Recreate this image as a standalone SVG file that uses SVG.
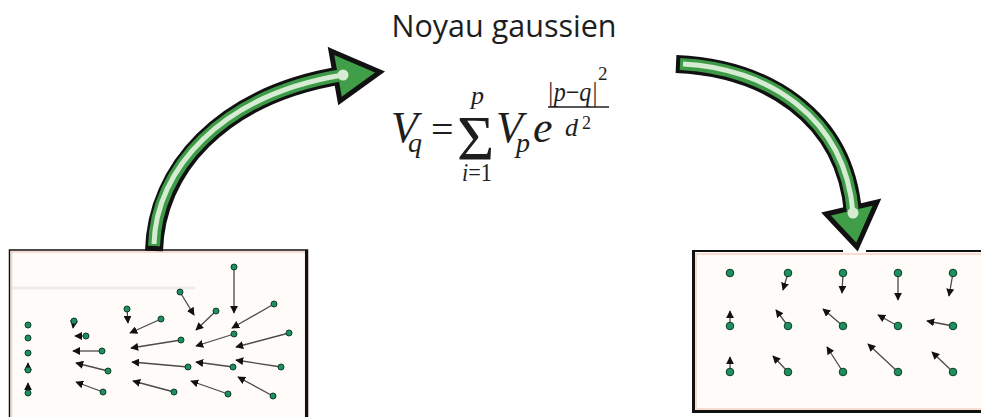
<svg xmlns="http://www.w3.org/2000/svg" width="981" height="417" viewBox="0 0 981 417">
<style>
.dot{fill:#1f8f5e;stroke:#0c3d28;stroke-width:1}
.vec{stroke:#4a4a4a;stroke-width:1.3;fill:none;marker-end:url(#ah)}
.sh-b{fill:none;stroke:#111;stroke-width:18}
.sh-g{fill:none;stroke:#3d9b47;stroke-width:12}
.sh-l{fill:none;stroke:#d6ecd2;stroke-width:5}
.head{fill:#3f9e47;stroke:#111;stroke-width:5;stroke-linejoin:miter}
.end{fill:#d6ecd2}
.m{font-family:"Liberation Serif",serif;font-style:italic;fill:#1e1e1e}
.u{font-family:"Liberation Serif",serif;fill:#1e1e1e}
</style>
<defs>
<marker id="ah" viewBox="0 0 10 10" refX="9" refY="5" markerWidth="8" markerHeight="8" markerUnits="userSpaceOnUse" orient="auto">
<path d="M0,0 L10,5 L0,10 Z" fill="#111"/>
</marker>
</defs>
<rect width="981" height="417" fill="#fff"/>

<text x="504" y="37" text-anchor="middle" font-family="'Open Sans',sans-serif" font-size="30.5" fill="#1e1e1e">Noyau gaussien</text>

<g id="formula">
<text class="m" x="391" y="142" font-size="44">V</text>
<text class="m" x="408" y="152" font-size="28">q</text>
<text class="u" x="431" y="143" font-size="40">=</text>
<text class="u" x="457" y="160" font-size="64">Σ</text>
<text class="m" x="471" y="104" font-size="26">p</text>
<text class="m" x="462" y="181" font-size="25" textLength="30" lengthAdjust="spacingAndGlyphs">i<tspan class="u" font-style="normal">=1</tspan></text>
<text class="m" x="496" y="142" font-size="44">V</text>
<text class="m" x="516" y="152" font-size="28">p</text>
<text class="m" x="533" y="142" font-size="44">e</text>
<text class="m" x="547" y="101" font-size="27" textLength="51" lengthAdjust="spacingAndGlyphs">|p<tspan class="u" font-style="normal">−</tspan>q|</text>
<text class="u" x="598" y="80" font-size="19">2</text>
<line x1="548" y1="107" x2="609" y2="107" stroke="#1e1e1e" stroke-width="1.3"/>
<text class="m" x="565" y="136" font-size="26">d</text>
<text class="u" x="582" y="129" font-size="18">2</text>
</g>

<g id="field-before">
<rect x="9.5" y="250" width="298" height="170" fill="#fffbf8" stroke="#111" stroke-width="1.5"/>
<rect x="11.5" y="252" width="294" height="170" fill="none" stroke="#f3d2c4" stroke-width="1.5"/>
<line x1="306.5" y1="250" x2="306.5" y2="417" stroke="#111" stroke-width="3"/>
<line x1="12" y1="288" x2="195" y2="288" stroke="#eceeee" stroke-width="3"/>
<line class="vec" x1="28" y1="370" x2="28" y2="363"/>
<line class="vec" x1="28" y1="393" x2="28" y2="383"/>
<line class="vec" x1="74" y1="321" x2="73" y2="328"/>
<line class="vec" x1="86" y1="336" x2="75" y2="336"/>
<line class="vec" x1="102" y1="351" x2="73" y2="351"/>
<line class="vec" x1="108" y1="371" x2="76" y2="363"/>
<line class="vec" x1="103" y1="392" x2="76" y2="382"/>
<line class="vec" x1="127" y1="309" x2="128" y2="323"/>
<line class="vec" x1="161" y1="319" x2="130" y2="333"/>
<line class="vec" x1="181" y1="340" x2="131" y2="348"/>
<line class="vec" x1="188" y1="367" x2="132" y2="362"/>
<line class="vec" x1="174" y1="392" x2="133" y2="381"/>
<line class="vec" x1="180" y1="292" x2="194" y2="315"/>
<line class="vec" x1="216" y1="311" x2="196" y2="330"/>
<line class="vec" x1="234" y1="334" x2="196" y2="346"/>
<line class="vec" x1="233" y1="367" x2="196" y2="362"/>
<line class="vec" x1="228" y1="394" x2="191" y2="381"/>
<line class="vec" x1="234" y1="267" x2="234" y2="313"/>
<line class="vec" x1="274" y1="304" x2="232" y2="328"/>
<line class="vec" x1="289" y1="333" x2="236" y2="347"/>
<line class="vec" x1="281" y1="367" x2="236" y2="360"/>
<line class="vec" x1="273" y1="396" x2="238" y2="377"/>
<g>
<circle class="dot" cx="28" cy="325" r="3"/>
<circle class="dot" cx="28" cy="338" r="3"/>
<circle class="dot" cx="28" cy="353" r="3"/>
<circle class="dot" cx="28" cy="370" r="3"/>
<circle class="dot" cx="28" cy="393" r="3"/>
<circle class="dot" cx="74" cy="321" r="3"/>
<circle class="dot" cx="86" cy="336" r="3"/>
<circle class="dot" cx="102" cy="351" r="3"/>
<circle class="dot" cx="108" cy="371" r="3"/>
<circle class="dot" cx="103" cy="392" r="3"/>
<circle class="dot" cx="127" cy="309" r="3"/>
<circle class="dot" cx="161" cy="319" r="3"/>
<circle class="dot" cx="181" cy="340" r="3"/>
<circle class="dot" cx="188" cy="367" r="3"/>
<circle class="dot" cx="174" cy="392" r="3"/>
<circle class="dot" cx="180" cy="292" r="3"/>
<circle class="dot" cx="216" cy="311" r="3"/>
<circle class="dot" cx="234" cy="334" r="3"/>
<circle class="dot" cx="233" cy="367" r="3"/>
<circle class="dot" cx="228" cy="394" r="3"/>
<circle class="dot" cx="234" cy="267" r="3"/>
<circle class="dot" cx="274" cy="304" r="3"/>
<circle class="dot" cx="289" cy="333" r="3"/>
<circle class="dot" cx="281" cy="367" r="3"/>
<circle class="dot" cx="273" cy="396" r="3"/>
</g>
</g>

<g id="field-after">
<rect x="693" y="251" width="300" height="161" fill="#fffbf8" stroke="none"/>
<rect x="696" y="254" width="300" height="155" fill="none" stroke="#f3d2c4" stroke-width="1.5"/>
<path d="M693,251 H843 M866,251 H981" stroke="#111" stroke-width="2" fill="none"/>
<line x1="693.5" y1="250" x2="693.5" y2="413" stroke="#111" stroke-width="3"/>
<line x1="692" y1="411.5" x2="981" y2="411.5" stroke="#111" stroke-width="3"/>
<line class="vec" x1="788" y1="273" x2="783" y2="290"/>
<line class="vec" x1="843" y1="273" x2="842" y2="293"/>
<line class="vec" x1="898" y1="273" x2="898" y2="300"/>
<line class="vec" x1="953" y1="273" x2="949" y2="296"/>
<line class="vec" x1="730" y1="326" x2="730" y2="311"/>
<line class="vec" x1="788" y1="326" x2="776" y2="310"/>
<line class="vec" x1="843" y1="326" x2="823" y2="309"/>
<line class="vec" x1="898" y1="326" x2="878" y2="315"/>
<line class="vec" x1="953" y1="326" x2="927" y2="321"/>
<line class="vec" x1="730" y1="372" x2="730" y2="357"/>
<line class="vec" x1="788" y1="372" x2="773" y2="356"/>
<line class="vec" x1="843" y1="372" x2="827" y2="347"/>
<line class="vec" x1="898" y1="372" x2="868" y2="344"/>
<line class="vec" x1="953" y1="372" x2="932" y2="352"/>
<g>
<circle class="dot" cx="730" cy="273" r="3.8"/>
<circle class="dot" cx="788" cy="273" r="3.8"/>
<circle class="dot" cx="843" cy="273" r="3.8"/>
<circle class="dot" cx="898" cy="273" r="3.8"/>
<circle class="dot" cx="953" cy="273" r="3.8"/>
<circle class="dot" cx="730" cy="326" r="3.8"/>
<circle class="dot" cx="788" cy="326" r="3.8"/>
<circle class="dot" cx="843" cy="326" r="3.8"/>
<circle class="dot" cx="898" cy="326" r="3.8"/>
<circle class="dot" cx="953" cy="326" r="3.8"/>
<circle class="dot" cx="730" cy="372" r="3.8"/>
<circle class="dot" cx="788" cy="372" r="3.8"/>
<circle class="dot" cx="843" cy="372" r="3.8"/>
<circle class="dot" cx="898" cy="372" r="3.8"/>
<circle class="dot" cx="953" cy="372" r="3.8"/>
</g>
</g>

<g id="connectors">
<g id="arrow-left">
<path class="sh-b" d="M154,251 C156,170 220,95 343,75"/>
<polygon class="head" points="331,51 380,72 340,101"/>
<path class="sh-g" d="M154,246 C156,170 220,95 343,75"/>
<path class="sh-l" d="M154,244 C156,170 220,95 343,75"/>
<circle class="end" cx="343" cy="75" r="5.5"/>
</g>
<g id="arrow-right">
<path class="sh-b" d="M676,64 C765,68 845,115 853,213"/>
<polygon class="head" points="826,214 857,247 877,202"/>
<path class="sh-g" d="M680,64 C765,68 845,115 853,213"/>
<path class="sh-l" d="M683,64 C765,68 845,115 853,213"/>
<circle class="end" cx="853" cy="213" r="5.5"/>
</g>
</g>
</svg>
